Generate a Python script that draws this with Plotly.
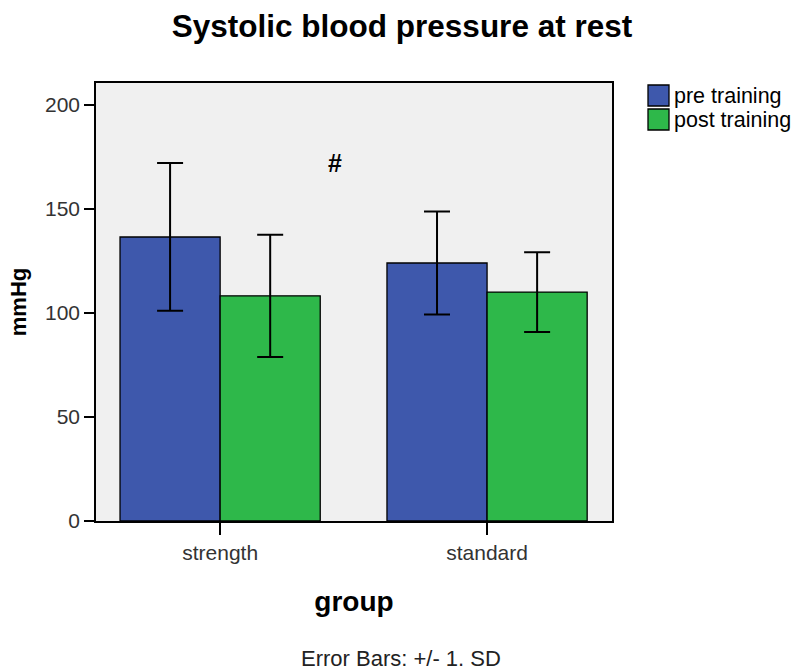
import plotly.graph_objects as go

categories = ["strength", "standard"]
series_names = ["pre training", "post training"]
pre_means = [136.5, 124.0]
pre_sd = [35.5, 24.8]
post_means = [108.2, 110.0]
post_sd = [29.4, 19.2]
y_ticks = [0, 50, 100, 150, 200]
colors = ["#3e58ac", "#2eb84a"]

W, H = 793, 671
L, R, T, B = 96, 181, 83, 150
PW, PH = W - L - R, H - T - B

fig = go.Figure()
fig.add_trace(go.Bar(
    x=categories, y=pre_means, name=series_names[0],
    marker=dict(color=colors[0], line=dict(color="black", width=1.3)),
    error_y=dict(type="data", array=pre_sd, color="black", thickness=2, width=13),
))
fig.add_trace(go.Bar(
    x=categories, y=post_means, name=series_names[1],
    marker=dict(color=colors[1], line=dict(color="black", width=1.3)),
    error_y=dict(type="data", array=post_sd, color="black", thickness=2, width=13),
))

font_family = "Liberation Sans, Arial, sans-serif"
fig.update_layout(
    width=W, height=H,
    barmode="group", bargap=0.25, bargroupgap=0,
    plot_bgcolor="#f0f0f0", paper_bgcolor="white",
    margin=dict(l=L, r=R, t=T, b=B),
    font=dict(family=font_family, color="black"),
    title=dict(text="<b>Systolic blood pressure at rest</b>", x=(402) / W, xanchor="center",
               y=1 - 26 / H, yanchor="middle", font=dict(size=31.5, color="black")),
    showlegend=False,
)
fig.update_xaxes(
    range=[-0.465, 1.468], showline=True, linecolor="black", linewidth=1.5, mirror=True,
    ticks="outside", ticklen=12, tickcolor="black", tickwidth=1.5,
    tickfont=dict(size=21, color="#333"),
    title=dict(text="<b>group</b>", font=dict(size=28, color="black"), standoff=28),
    showgrid=False,
)
fig.update_yaxes(
    range=[0, 210.5], tickvals=y_ticks, showline=True, linecolor="black", linewidth=1.5, mirror=True,
    ticks="outside", ticklen=10, tickcolor="black", tickwidth=1.5,
    tickfont=dict(size=21, color="#333"),
    title=dict(text="<b>mmHg</b>", font=dict(size=22, color="black"), standoff=12),
    showgrid=False, zeroline=False,
)
fig.add_annotation(x=0.43, y=172, xref="x", yref="y", text="<b>#</b>", showarrow=False,
                   font=dict(size=25, color="black"))
fig.add_annotation(x=(401 - L) / PW, y=-(658 - (T + PH)) / PH, xref="paper", yref="paper",
                   text="Error Bars: +/- 1. SD", showarrow=False,
                   font=dict(size=22, color="#222"), xanchor="center", yanchor="middle")

# legend drawn by hand (large swatches like the reference)
leg_rows = [(85, 106), (109, 130)]
for (y0, y1), name, col in zip(leg_rows, series_names, colors):
    fig.add_shape(type="rect", xref="paper", yref="paper",
                  x0=(648 - L) / PW, x1=(669 - L) / PW,
                  y0=1 - (y1 - T) / PH, y1=1 - (y0 - T) / PH,
                  fillcolor=col, line=dict(color="black", width=1.3))
    fig.add_annotation(x=(672 - L) / PW, y=1 - ((y0 + y1) / 2 - T) / PH, xref="paper", yref="paper",
                       text=name, showarrow=False, xanchor="left", yanchor="middle",
                       font=dict(size=21.5, color="black"))

fig.write_html("out.html", config={"displayModeBar": False},
               post_script="document.body.style.margin='0';")
